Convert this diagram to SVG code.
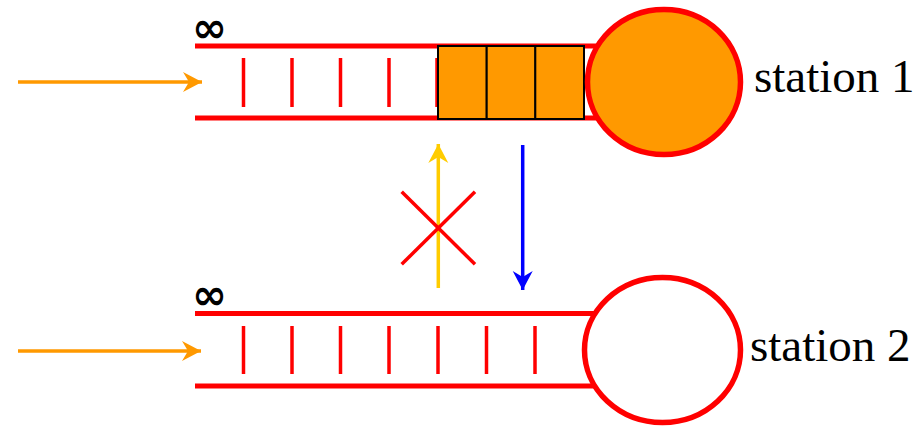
<svg xmlns="http://www.w3.org/2000/svg" width="918" height="426" viewBox="0 0 918 426">
<style>
.chan{stroke:#FF0000;stroke-width:5;fill:none}
.tick{stroke:#FF0000;stroke-width:3.5}
.srv{stroke:#FF0000;stroke-width:5.5}
.cell{fill:#FF9900;stroke:#000;stroke-width:2}
.lbl{font-family:"Liberation Serif","Times New Roman",serif;font-size:47px;fill:#000}
.inf{font-family:"DejaVu Sans",sans-serif;font-weight:bold;font-size:42px;fill:#000}
</style>
<defs>
<marker id="ahO" markerUnits="userSpaceOnUse" markerWidth="20" markerHeight="22" viewBox="0 -11 20 22" refX="19" refY="0" orient="auto"><path d="M0,-10 L19,0 L0,10 L6,0 Z" fill="#FF9900"/></marker>
<marker id="ahY" markerUnits="userSpaceOnUse" markerWidth="20" markerHeight="22" viewBox="0 -11 20 22" refX="19" refY="0" orient="auto"><path d="M0,-10 L19,0 L0,10 L6,0 Z" fill="#FFCC00"/></marker>
<marker id="ahB" markerUnits="userSpaceOnUse" markerWidth="20" markerHeight="22" viewBox="0 -11 20 22" refX="19" refY="0" orient="auto"><path d="M0,-10 L19,0 L0,10 L6,0 Z" fill="#0000FF"/></marker>
</defs>
<g id="station1">
<line class="chan" x1="195" y1="46" x2="600" y2="46"/>
<line class="chan" x1="195" y1="118" x2="600" y2="118"/>
<g class="tick">
<line x1="243.5" y1="58" x2="243.5" y2="107"/>
<line x1="292" y1="58" x2="292" y2="107"/>
<line x1="340.5" y1="58" x2="340.5" y2="107"/>
<line x1="389" y1="58" x2="389" y2="107"/>
<line x1="437" y1="58" x2="437" y2="107"/>
</g>
<rect class="cell" x="438" y="46" width="48.7" height="73"/>
<rect class="cell" x="486.7" y="46" width="48.7" height="73"/>
<rect class="cell" x="535.3" y="46" width="48.7" height="73"/>
<ellipse class="srv" cx="664" cy="82" rx="76.5" ry="72.5" fill="#FF9900"/>
<text class="inf" x="192" y="42">∞</text>
<text class="lbl" x="754" y="92">station 1</text>
</g>
<g id="station2">
<line class="chan" x1="195" y1="313.5" x2="600" y2="313.5"/>
<line class="chan" x1="195" y1="386" x2="600" y2="386"/>
<g class="tick">
<line x1="243.5" y1="326" x2="243.5" y2="374"/>
<line x1="292" y1="326" x2="292" y2="374"/>
<line x1="340.5" y1="326" x2="340.5" y2="374"/>
<line x1="389" y1="326" x2="389" y2="374"/>
<line x1="438" y1="326" x2="438" y2="374"/>
<line x1="486.5" y1="326" x2="486.5" y2="374"/>
<line x1="535" y1="326" x2="535" y2="374"/>
</g>
<ellipse class="srv" cx="662.5" cy="350" rx="78" ry="72.5" fill="#FFFFFF"/>
<text class="inf" x="192" y="309">∞</text>
<text class="lbl" x="750" y="361">station 2</text>
</g>
<g id="connectors">
<line x1="18" y1="82" x2="202" y2="82" stroke="#FF9900" stroke-width="3.5" marker-end="url(#ahO)"/>
<line x1="18" y1="351" x2="201" y2="351" stroke="#FF9900" stroke-width="3.5" marker-end="url(#ahO)"/>
<line x1="438.3" y1="288" x2="438.3" y2="144" stroke="#FFCC00" stroke-width="3.5" marker-end="url(#ahY)"/>
<line x1="522.7" y1="145" x2="522.7" y2="290" stroke="#0000FF" stroke-width="3.5" marker-end="url(#ahB)"/>
<g id="cross" stroke="#FF0000" stroke-width="3.5">
<line x1="401.7" y1="191.7" x2="475" y2="264.3"/>
<line x1="401.7" y1="264.3" x2="475" y2="191.7"/>
</g>
</g>
</svg>
